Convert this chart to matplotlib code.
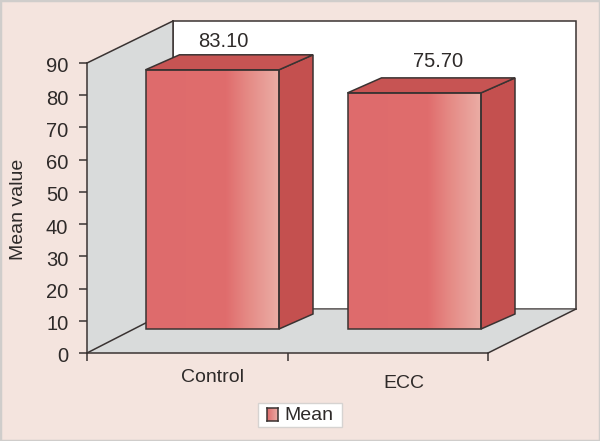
import numpy as np
import matplotlib
matplotlib.use("Agg")
import matplotlib.pyplot as plt
from matplotlib.colors import LinearSegmentedColormap
from matplotlib.patches import Polygon, Rectangle
from matplotlib.transforms import ScaledTranslation

categories = ["Control", "ECC"]
means = [83.10, 75.70]
value_labels = ["83.10", "75.70"]
yticks = [0, 10, 20, 30, 40, 50, 60, 70, 80, 90]
legend_label = "Mean"

W, H = 600, 441
plt.rcParams["font.family"] = ["Liberation Sans", "DejaVu Sans"]
INK = "#2e2a29"
LINE = "#3a3332"
BG = "#f4e4de"
WALL = "#d9dbdb"
SIDE = "#c4504f"
TOP = "#c75453"
face_cmap = LinearSegmentedColormap.from_list(
    "face", [(0, "#de6b6c"), (0.6, "#e06d6d"), (0.76, "#e58a85"), (1, "#ebaea6")])
grad = np.linspace(0, 1, 256).reshape(1, -1)

fig = plt.figure(figsize=(W / 100, H / 100), dpi=100, facecolor=BG)
# plot box in pixels: x 87-488, y 353 (value 0) up to 63 (value 90)
ax = fig.add_axes([87 / W, 1 - 353 / H, 401 / W, 290 / H])
ax.set_xlim(0, 2)
ax.set_ylim(0, 90)
ax.patch.set_visible(False)

px = 2 / 401    # one pixel in x data units
py = 90 / 290   # one pixel in y data units

# outer border
fig.add_artist(Rectangle((0, 0), 1, 1, transform=fig.transFigure, fill=False,
                         ec="#cfcdcb", lw=2.5))

# back wall, side wall, floor
wall_dx, wall_dy = 86 * px, 44 * py
wall_h = 288 * py
top_y = wall_dy + wall_h
right_dx = 88 * px
ax.add_patch(Rectangle((wall_dx, wall_dy), 2 + right_dx - wall_dx, wall_h, fc="white",
                       ec=LINE, lw=1.1, clip_on=False, zorder=1))
ax.add_patch(Polygon([(0, 0), (wall_dx, wall_dy), (wall_dx, top_y), (0, 90)],
                     fc=WALL, ec="none", clip_on=False, zorder=1.5))
ax.plot([0, wall_dx], [90, top_y], color=LINE, lw=1.1, clip_on=False, zorder=2)
ax.plot([wall_dx, wall_dx], [wall_dy, top_y], color=LINE, lw=1.1, clip_on=False, zorder=1.55)
ax.add_patch(Polygon([(0, 0), (2, 0), (2 + right_dx, wall_dy), (wall_dx, wall_dy)],
                     fc=WALL, ec="none", clip_on=False, zorder=1.6))
ax.plot([wall_dx, 2 + right_dx], [wall_dy, wall_dy], color="#6e6a69", lw=1.1, zorder=1.7,
        clip_on=False)
ax.plot([0, wall_dx], [0, wall_dy], color=LINE, lw=1.1, clip_on=False, zorder=2)
ax.plot([2, 2 + right_dx], [0, wall_dy], color=LINE, lw=1.1, clip_on=False, zorder=2)

# bars
bar_w = 133.5 * px
base_shift = [25 * px, 26.5 * px]
base_dy = 24 * py
depth_dx, depth_dy = 34 * px, 15 * py
bar_scale = 0.968   # front plane is drawn a bit smaller than the axis
label_off = [(11, 13), (24, 16)]
for i, v in enumerate(means):
    x0 = i + 0.5 - bar_w / 2 + base_shift[i]
    x1 = x0 + bar_w
    y0 = base_dy
    y1 = y0 + v * bar_scale
    ax.imshow(grad, cmap=face_cmap, extent=(x0, x1, y0, y1), aspect="auto",
              zorder=3, clip_on=False, interpolation="bilinear")
    ax.add_patch(Rectangle((x0, y0), bar_w, y1 - y0, fill=False, ec=LINE, lw=1.1,
                           clip_on=False, zorder=3.2))
    ax.add_patch(Polygon([(x1, y0), (x1 + depth_dx, y0 + depth_dy),
                          (x1 + depth_dx, y1 + depth_dy), (x1, y1)],
                         fc=SIDE, ec=LINE, lw=1.1, clip_on=False, zorder=3))
    ax.add_patch(Polygon([(x0, y1), (x0 + depth_dx, y1 + depth_dy),
                          (x1 + depth_dx, y1 + depth_dy), (x1, y1)],
                         fc=TOP, ec=LINE, lw=1.1, clip_on=False, zorder=3))
    ax.annotate(value_labels[i], xy=((x0 + x1) / 2, y1 + depth_dy),
                xytext=(label_off[i][0] * 0.72, label_off[i][1] * 0.72),
                textcoords="offset points", ha="center", va="center",
                fontsize=14.5, color=INK, annotation_clip=False, zorder=5)
ax.set_xlim(0, 2)
ax.set_ylim(0, 90)

# axes
for s in ["top", "right"]:
    ax.spines[s].set_visible(False)
for s in ["left", "bottom"]:
    ax.spines[s].set_color(LINE)
    ax.spines[s].set_linewidth(1.1)
    ax.spines[s].set_zorder(2.5)
ax.set_yticks(yticks)
ax.set_xticks([0, 1, 2])
ax.set_xticklabels([])
ax.tick_params(axis="both", length=6, width=1.1, color=LINE, direction="out")
ax.tick_params(axis="y", labelsize=14.5, labelcolor=INK, pad=7.5)
for lab in ax.get_yticklabels():
    lab.set_transform(lab.get_transform() + ScaledTranslation(0, -2 / 100, fig.dpi_scale_trans))
fig.text(19 / W, 1 - 209 / H, "Mean value", rotation=90, ha="center", va="center",
         fontsize=14, color=INK)

# category names sit unevenly in the original
cat_pos = [(212, 377), (404, 383)]
for name, (cx, cy) in zip(categories, cat_pos):
    fig.text(cx / W, 1 - cy / H, name, ha="center", va="center", fontsize=14, color=INK)

# legend
fig.add_artist(Rectangle((258 / W, 1 - 427 / H), 84 / W, 24 / H, transform=fig.transFigure,
                         fc="white", ec="#d6d3d1", lw=1, zorder=1))
sw = fig.add_axes([267 / W, 1 - 421 / H, 11 / W, 13 / H])
sw.set_zorder(5)
sw.imshow(grad, cmap=LinearSegmentedColormap.from_list("s", ["#de6b6c", "#ebaea6"]),
          aspect="auto", interpolation="bilinear")
sw.set_xticks([])
sw.set_yticks([])
for s in sw.spines.values():
    s.set_color(LINE)
    s.set_linewidth(1.1)
fig.text(284 / W, 1 - 415 / H, legend_label, ha="left", va="center", fontsize=14, color=INK,
         zorder=6)

fig.savefig("out.png", dpi=100, facecolor=BG)
